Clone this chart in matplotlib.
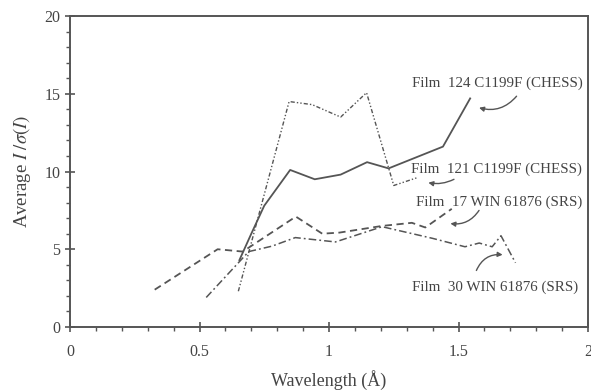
import numpy as np
import matplotlib
matplotlib.use("Agg")
import matplotlib.pyplot as plt
from matplotlib.ticker import MultipleLocator

plt.rcParams['font.family'] = ['Liberation Serif', 'DejaVu Serif']
plt.rcParams['mathtext.fontset'] = 'stix'

# Film 124 C1199F (CHESS) - solid
x124 = [0.654, 0.70, 0.75, 0.85, 0.945, 1.045, 1.147, 1.23, 1.44, 1.545]
y124 = [4.3, 6.0, 7.8, 10.1, 9.5, 9.8, 10.6, 10.2, 11.6, 14.7]

# Film 121 C1199F (CHESS) - dash-dot-dot
x121 = [0.65, 0.846, 0.935, 1.045, 1.145, 1.25, 1.34]
y121 = [2.3, 14.5, 14.3, 13.5, 15.07, 9.1, 9.6]

# Film 17 WIN 61876 (SRS) - dashed
x17 = [0.327, 0.57, 0.667, 0.872, 0.974, 1.04, 1.205, 1.32, 1.372, 1.474]
y17 = [2.4, 5.0, 4.85, 7.1, 6.0, 6.07, 6.5, 6.7, 6.4, 7.6]

# Film 30 WIN 61876 (SRS) - dash-dot
x30 = [0.526, 0.654, 0.69, 0.78, 0.87, 1.025, 1.205, 1.4, 1.525, 1.58, 1.63, 1.664, 1.72]
y30 = [1.9, 4.2, 4.85, 5.2, 5.75, 5.47, 6.45, 5.7, 5.16, 5.4, 5.16, 5.87, 4.13]

labels = ['Film  124 C1199F (CHESS)', 'Film  121 C1199F (CHESS)',
          'Film  17 WIN 61876 (SRS)', 'Film  30 WIN 61876 (SRS)']
label_xy = [(1.319, 15.7), (1.315, 10.16), (1.335, 8.04), (1.319, 2.57)]
arrow_from = [(1.731, 14.98), (1.492, 9.58), (1.585, 7.65), (1.565, 3.47)]
arrow_to = [(1.569, 14.15), (1.373, 9.32), (1.458, 6.68), (1.681, 4.63)]
arrow_rad = [-0.35, -0.2, -0.35, -0.4]

xticks = [0, 0.5, 1, 1.5, 2]
xtick_labels = ['0', '0.5', '1', '1.5', '2']
yticks = [0, 5, 10, 15, 20]

col = '#555555'
txt = '#444444'
fig = plt.figure(figsize=(5.91, 3.9), dpi=100)
ax = fig.add_axes([70 / 591, 1 - 327 / 390, 518 / 591, 311 / 390])

ax.plot(x124, y124, color=col, lw=1.3, ls='-')
ax.plot(x121, y121, color=col, lw=1.0, ls=(0, (3, 1.5, 1, 1.5, 1, 1.5)))
ax.plot(x17, y17, color=col, lw=1.3, ls=(0, (4, 2.5)))
ax.plot(x30, y30, color=col, lw=1.1, ls=(0, (5, 2, 1.2, 2)))

for lab, (tx, ty) in zip(labels, label_xy):
    ax.text(tx, ty, lab, fontsize=10.8, color=txt, va='center', ha='left')

for (fx, fy), (hx, hy), r in zip(arrow_from, arrow_to, arrow_rad):
    ax.annotate('', xy=(hx, hy), xytext=(fx, fy),
                arrowprops=dict(arrowstyle='-|>', color=col, lw=1.0,
                                mutation_scale=7,
                                connectionstyle=f'arc3,rad={r}'))

ax.set_xlim(0, 2)
ax.set_ylim(0, 20)
ax.set_xticks(xticks)
ax.set_xticklabels(xtick_labels)
ax.set_yticks(yticks)
ax.xaxis.set_minor_locator(MultipleLocator(0.1))
ax.yaxis.set_minor_locator(MultipleLocator(1))
ax.tick_params(which='major', direction='inout', length=7, width=1.2, colors=col,
               labelcolor=txt, labelsize=11.5)
ax.tick_params(axis='x', which='major', pad=9)
ax.tick_params(which='minor', direction='out', length=3, width=1.0, colors=col)
for s in ax.spines.values():
    s.set_color(col)
    s.set_linewidth(1.4)

ax.set_xlabel('Wavelength (Å)', fontsize=13, color=txt, labelpad=7)
ax.set_ylabel('Average $I\\ /\\sigma(I)$', fontsize=13.5, color=txt, labelpad=8)

fig.savefig('out.png', dpi=100)
